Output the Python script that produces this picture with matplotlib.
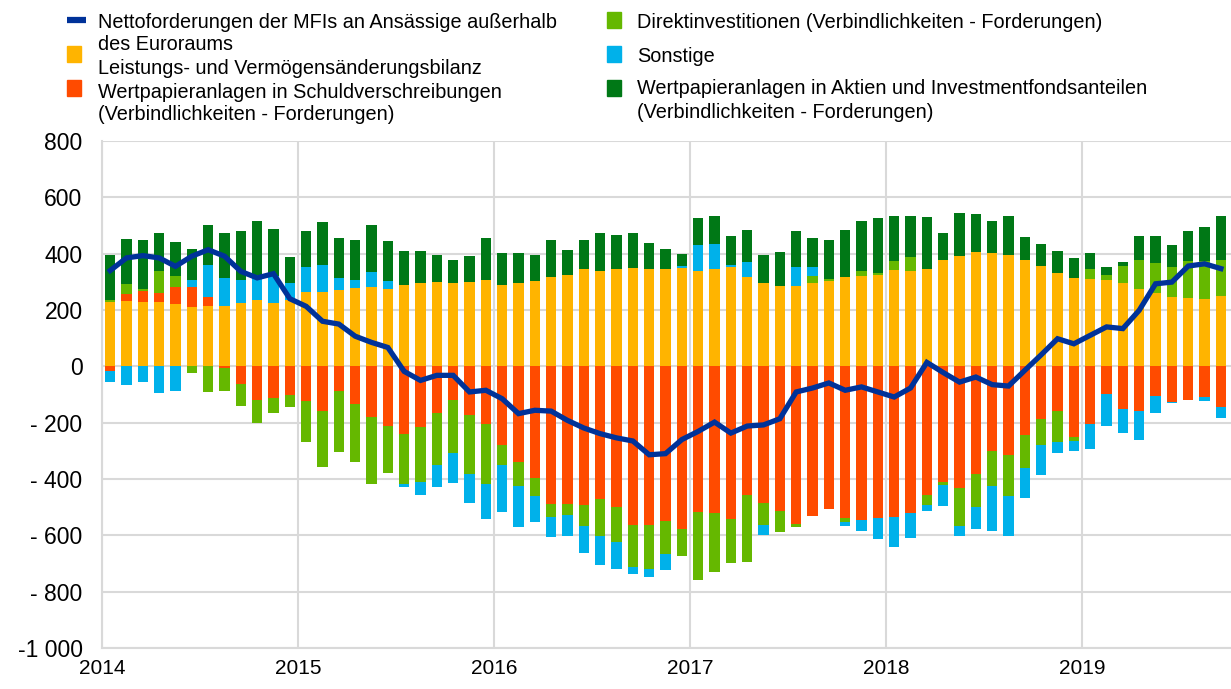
import numpy as np
import matplotlib
matplotlib.use("Agg")
import matplotlib.pyplot as plt
from matplotlib.patches import Rectangle
from matplotlib.lines import Line2D

plt.rcParams['font.family'] = ['Liberation Sans', 'DejaVu Sans']

# monthly data, Jan 2014 - Sep 2019 (EUR bn, 12-month sums)
start_year = 2014
n_months = 69

current_account = [228, 233, 227, 227, 220, 209, 213, 213, 225, 234, 225, 234,
                   265, 264, 270, 277, 283, 275, 288, 295, 299, 295, 299, 306,
                   290, 295, 302, 316, 323, 346, 338, 344, 348, 344, 347, 349,
                   337, 344, 351, 316, 296, 284, 285, 295, 304, 316, 320, 323,
                   343, 340, 344, 376, 393, 406, 401, 396, 376, 356, 333, 315,
                   309, 305, 295, 273, 262, 245, 244, 240, 249]
debt_securities = [-16, 24, 41, 33, 62, 73, 34, -7, -62, -118, -111, -103,
                   -123, -157, -89, -134, -179, -212, -241, -214, -164, -121, -172, -204,
                   -280, -341, -398, -488, -488, -491, -470, -501, -562, -562, -550, -576,
                   -517, -521, -543, -458, -484, -515, -559, -530, -505, -540, -544, -540,
                   -534, -520, -456, -409, -431, -381, -302, -316, -245, -186, -160, -252,
                   -206, -98, -151, -157, -105, -125, -120, -110, -146]
direct_investment = [9, 35, 8, 77, 37, -25, -90, -80, -79, -82, -54, -43,
                     -146, -200, -215, -207, -238, -166, -175, -195, -185, -186, -212, -215,
                     -72, -83, -62, -46, -39, -76, -131, -123, -150, -159, -118, -96,
                     -243, -209, -154, -236, -78, -73, -11, 24, 5, -12, 19, 8,
                     32, 47, -37, -13, -137, -118, -124, -145, -116, -94, -108, -13,
                     35, 18, 60, 105, 105, 107, 129, 133, 128]
other = [-39, -67, -57, -93, -86, 26, 111, 102, 80, 91, 96, 62,
         86, 95, 44, 28, 51, 27, -14, -49, -78, -107, -101, -122,
         -164, -147, -93, -73, -77, -97, -103, -96, -24, -27, -54, 6,
         95, 91, 7, 54, -38, 0, 69, 33, 0, -15, -40, -73,
         -109, -89, -22, -73, -33, -79, -160, -142, -106, -107, -40, -36,
         -89, -114, -85, -105, -60, -5, 0, -14, -39]
equity = [159, 160, 172, 138, 122, 108, 144, 160, 176, 192, 167, 92,
          131, 155, 142, 143, 169, 144, 123, 114, 97, 84, 93, 150,
          112, 107, 95, 131, 91, 104, 135, 123, 126, 93, 69, 45,
          96, 98, 104, 113, 98, 121, 127, 103, 141, 167, 177, 194,
          160, 148, 187, 98, 152, 134, 115, 137, 83, 77, 77, 69,
          60, 31, 17, 86, 97, 78, 107, 120, 158]
mfi_net = [340, 385, 393, 385, 355, 391, 414, 391, 337, 314, 329, 240,
           213, 160, 150, 107, 85, 67, -18, -50, -32, -32, -91, -85,
           -115, -168, -156, -159, -192, -219, -239, -254, -265, -314, -310, -260,
           -231, -198, -237, -212, -208, -186, -91, -77, -59, -85, -73, -91,
           -109, -77, 14, -22, -56, -38, -65, -70, -14, 41, 98, 80,
           110, 140, 134, 199, 293, 299, 356, 364, 347]

years = [2014, 2015, 2016, 2017, 2018, 2019]
y_ticks = [-1000, -800, -600, -400, -200, 0, 200, 400, 600, 800]
y_labels = ['-1 000', '- 800', '- 600', '- 400', '- 200', '0', '200', '400', '600', '800']

line_label = 'Nettoforderungen der MFIs an Ansässige außerhalb\ndes Euroraums'
bar_series = [
    ('Leistungs- und Vermögensänderungsbilanz', current_account, '#ffb400'),
    ('Wertpapieranlagen in Schuldverschreibungen\n(Verbindlichkeiten - Forderungen)', debt_securities, '#ff4b00'),
    ('Direktinvestitionen (Verbindlichkeiten - Forderungen)', direct_investment, '#65b800'),
    ('Sonstige', other, '#00b1ea'),
    ('Wertpapieranlagen in Aktien und Investmentfondsanteilen\n(Verbindlichkeiten - Forderungen)', equity, '#007816'),
]
line_color = '#003299'

x = start_year + (np.arange(n_months) + 0.5) / 12.0

W, H = 1231, 689
fig = plt.figure(figsize=(W / 100, H / 100), dpi=100)
ax = fig.add_axes([102 / W, 41 / H, 1129 / W, 507 / H])

pos_bottom = np.zeros(n_months)
neg_bottom = np.zeros(n_months)
for label, vals, color in bar_series:
    v = np.array(vals, dtype=float)
    pos = np.where(v > 0, v, 0)
    neg = np.where(v < 0, v, 0)
    ax.bar(x, pos, bottom=pos_bottom, width=0.054, color=color, linewidth=0, zorder=2)
    ax.bar(x, neg, bottom=neg_bottom, width=0.054, color=color, linewidth=0, zorder=2)
    pos_bottom += pos
    neg_bottom += neg

ax.plot(x, mfi_net, color=line_color, linewidth=3.8, solid_joinstyle='miter', zorder=3)

ax.set_xlim(start_year, start_year + n_months / 12.0 + 0.01)
ax.set_ylim(-1000, 800)
ax.set_xticks(years)
ax.set_xticklabels([str(y) for y in years])
ax.set_yticks(y_ticks)
ax.set_yticklabels(y_labels)
ax.tick_params(axis='both', length=0, colors='black')
ax.tick_params(axis='y', pad=14, labelsize=16.5)
ax.tick_params(axis='x', pad=8, labelsize=15)
ax.grid(True, color='#d9d9d9', linewidth=1.5, zorder=0)
ax.set_axisbelow(True)
for side in ['top', 'right']:
    ax.spines[side].set_visible(False)
for side in ['left', 'bottom']:
    ax.spines[side].set_color('#d9d9d9')
    ax.spines[side].set_linewidth(1.5)


# legend drawn by hand to follow the two-column layout of the original
def fx(px):
    return px / W


def fy(py):
    return 1 - py / H


fs = 14.3
fig.add_artist(Line2D([fx(67), fx(86)], [fy(20), fy(20)], color=line_color, linewidth=4.5,
                      solid_capstyle='butt'))
marker_rows = [54, 88, 20, 54, 88]
marker_cols = [67, 67, 607, 607, 607]
for (label, vals, color), row, col in zip(bar_series, marker_rows, marker_cols):
    fig.add_artist(Rectangle((fx(col), fy(row + 8)), 14 / W, 16 / H, color=color,
                             transform=fig.transFigure))

col1_lines = line_label.split('\n') + [bar_series[0][0]] + bar_series[1][0].split('\n')
for text, row in zip(col1_lines, [22, 45, 68, 92, 115]):
    fig.text(fx(98), fy(row), text, fontsize=fs, va='center', ha='left')
col2_lines = [bar_series[2][0], bar_series[3][0]] + bar_series[4][0].split('\n')
for text, row in zip(col2_lines, [22, 56, 89, 112]):
    fig.text(fx(637), fy(row), text, fontsize=fs, va='center', ha='left')

fig.savefig('out.png', dpi=100)
